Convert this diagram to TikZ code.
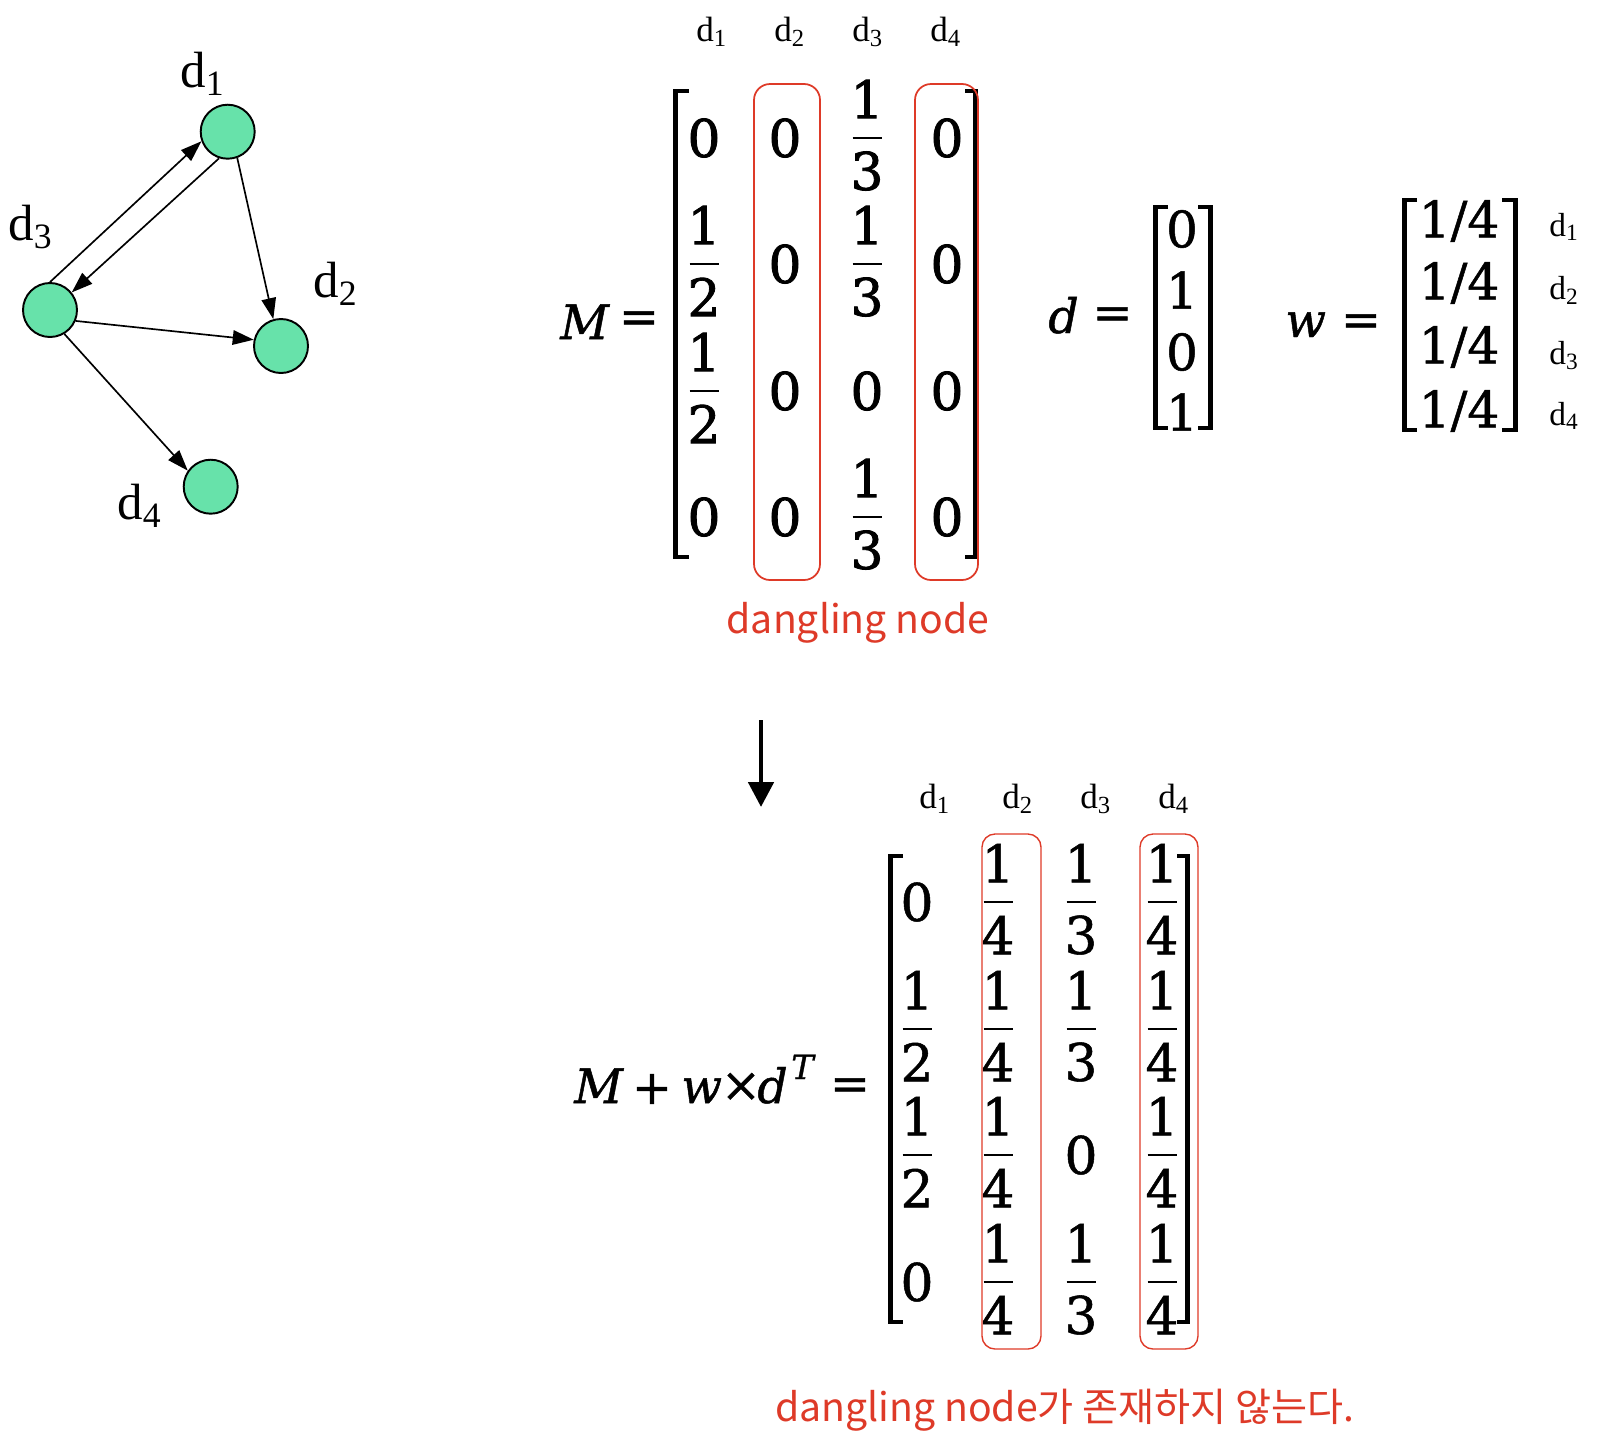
\documentclass[tikz,border=0pt]{standalone}
\usepackage{fontspec}
\setmainfont{Liberation Serif}
\newfontfamily\mf{DejaVu Serif}
\newfontfamily\mfb{DejaVu Serif}[FakeBold=1.6]
\newfontfamily\mfc{DejaVu Serif}[FakeBold=1.0]
\newfontfamily\kr{Noto Sans CJK KR}
\usetikzlibrary{arrows.meta}
\definecolor{nodegreen}{RGB}{103,226,170}
\definecolor{hred}{RGB}{222,58,40}
\tikzset{
  gnode/.style={circle,draw=black,line width=1.1pt,fill=nodegreen,minimum size=1.08cm,inner sep=0pt},
  gedge/.style={line width=0.95pt,-{Triangle[length=4.2mm,width=2.9mm]}},
  glab/.style={inner sep=0pt,anchor=base west,font=\fontsize{29}{30}\selectfont},
  clab/.style={inner sep=0pt,anchor=base west,font=\fontsize{20}{22}\selectfont},
  wlab/.style={inner sep=0pt,anchor=base west,font=\fontsize{19}{21}\selectfont},
  ent/.style={inner sep=0pt,font=\mfb\fontsize{29.5}{30}\selectfont},
  entb/.style={inner sep=0pt,font=\mfc\fontsize{29.5}{30}\selectfont},
  vent/.style={inner sep=0pt,font=\mfc\fontsize{28.5}{29}\selectfont},
  eqtxt/.style={inner sep=0pt,font=\mfc\fontsize{27}{28}\selectfont},
  supT/.style={inner sep=0pt,font=\mfc\itshape\fontsize{19}{20}\selectfont},
  fbar/.style={line width=1.5pt},
  brk/.style={line width=2.4pt,line join=miter},
  redbox/.style={draw=hred,line width=1pt,rounded corners=3.2mm},
  redtxt/.style={inner sep=0pt,text=hred,anchor=base,font=\kr\fontsize{22.3}{25}\selectfont},
}
\newcommand\ent[5][ent]{\node[#1] (#2) at (#3,#4) {#5};}
\newcommand\frc[6][ent]{%
  \node[#1] (#2n) at (#3,#4-39) {#5};
  \node[#1] (#2d) at (#3,#4+33) {#6};
  \draw[fbar] (#3-14.5,#4) -- (#3+14.5,#4);}
\begin{document}
\begin{tikzpicture}[x=0.02cm,y=-0.02cm]
\useasboundingbox (0,0) rectangle (1598,1438);
% ---------- graph ----------
\node[gnode] (d1) at (227.7,131.7) {};
\node[gnode] (d3) at (50,310) {};
\node[gnode] (d2) at (281,346) {};
\node[gnode] (d4) at (210.7,486.7) {};
\node[glab] (l1) at (180,87) {d\textsubscript{1}};
\node[glab] (l3) at (8,240) {d\textsubscript{3}};
\node[glab] (l2) at (313,297) {d\textsubscript{2}};
\node[glab] (l4) at (117,519) {d\textsubscript{4}};
\draw[gedge] (d3.north) -- (d1.200);
\draw[gedge] (d1.252) -- (d3.39);
\draw[gedge] (d1.290) -- (d2.106);
\draw[gedge] (d3.337) -- (d2.167);
\draw[gedge] (d3.301) -- (d4.145);
% ---------- M matrix ----------
\node[eqtxt,anchor=base west] (Mlab) at (560,339) {\itshape M};
\node[eqtxt] (Meq) at (639,322) {=};
\node[clab] (c1) at (696,41) {d\textsubscript{1}};
\node[clab] (c2) at (774,41) {d\textsubscript{2}};
\node[clab] (c3) at (852,41) {d\textsubscript{3}};
\node[clab] (c4) at (930,41) {d\textsubscript{4}};
\draw[brk] (689,91) -- (675.5,91) -- (675.5,557) -- (689,557);
\draw[brk] (965,91) -- (975.5,91) -- (975.5,557) -- (965,557);
\ent{m11}{704}{138}{0}\ent{m12}{785}{138}{0}\frc{m13}{867}{138}{1}{3}\ent{m14}{947}{138}{0}
\frc{m21}{704}{264}{1}{2}\ent{m22}{785}{264}{0}\frc{m23}{867}{264}{1}{3}\ent{m24}{947}{264}{0}
\frc{m31}{704}{391}{1}{2}\ent{m32}{785}{391}{0}\ent{m33}{867}{391}{0}\ent{m34}{947}{391}{0}
\ent{m41}{704}{517}{0}\ent{m42}{785}{517}{0}\frc{m43}{867}{517}{1}{3}\ent{m44}{947}{517}{0}
\draw[redbox] (754,84) rectangle (820,580);
\draw[redbox] (915,84) rectangle (978,580);
\node[redtxt] (dang1) at (858,633) {dangling node};
% ---------- d vector ----------
\node[eqtxt,anchor=base west] (dlab) at (1048,333) {\itshape d};
\node[eqtxt] (deq) at (1112.5,318) {=};
\draw[brk] (1168,207) -- (1155.5,207) -- (1155.5,428) -- (1168,428);
\draw[brk] (1198,207) -- (1210.5,207) -- (1210.5,428) -- (1198,428);
\node[vent] (v1) at (1182,229) {0};
\node[vent] (v2) at (1182,290) {1};
\node[vent] (v3) at (1182,352) {0};
\node[vent] (v4) at (1182,412) {1};
% ---------- w vector ----------
\node[eqtxt,anchor=base west] (wlab) at (1285,337) {\itshape w};
\node[eqtxt] (weq) at (1361,325) {=};
\draw[brk] (1417,200) -- (1404.5,200) -- (1404.5,430) -- (1417,430);
\draw[brk] (1502,200) -- (1515.5,200) -- (1515.5,430) -- (1502,430);
\node[vent] (w1) at (1459,221) {1/4};
\node[vent] (w2) at (1459,283) {1/4};
\node[vent] (w3) at (1459,347) {1/4};
\node[vent] (w4) at (1459,411) {1/4};
\node[wlab] (wl1) at (1549,236) {d\textsubscript{1}};
\node[wlab] (wl2) at (1549,299) {d\textsubscript{2}};
\node[wlab] (wl3) at (1549,364) {d\textsubscript{3}};
\node[wlab] (wl4) at (1549,425) {d\textsubscript{4}};
% ---------- arrow ----------
\coordinate (arS) at (761,720);
\coordinate (arE) at (761,807);
\draw[line width=2.8pt,-{Triangle[length=5mm,width=5mm]}] (arS) -- (arE);
% ---------- second matrix ----------
\node[eqtxt,anchor=base west] (q1) at (574,1103) {\itshape M};
\node[eqtxt] (q2) at (652,1089) {+};
\node[eqtxt,anchor=base west] (q3) at (681,1103) {\itshape w};
\node[eqtxt] (q4) at (741,1087) {×};
\node[eqtxt,anchor=base west] (q5) at (757,1103) {\itshape d};
\node[supT,anchor=base west] (q6) at (791,1079) {T};
\node[eqtxt] (q7) at (850,1089) {=};
\node[clab] (e1) at (919,808) {d\textsubscript{1}};
\node[clab] (e2) at (1002,808) {d\textsubscript{2}};
\node[clab] (e3) at (1080,808) {d\textsubscript{3}};
\node[clab] (e4) at (1158,808) {d\textsubscript{4}};
\draw[brk] (903,856) -- (890.5,856) -- (890.5,1322) -- (903,1322);
\draw[brk] (1177,856) -- (1187.5,856) -- (1187.5,1322) -- (1177,1322);
\ent[entb]{n11}{917}{902}{0}\frc[entb]{n12}{998}{902}{1}{4}\frc[entb]{n13}{1081}{902}{1}{3}\frc[entb]{n14}{1162}{902}{1}{4}
\frc[entb]{n21}{917}{1029}{1}{2}\frc[entb]{n22}{998}{1029}{1}{4}\frc[entb]{n23}{1081}{1029}{1}{3}\frc[entb]{n24}{1162}{1029}{1}{4}
\frc[entb]{n31}{917}{1155}{1}{2}\frc[entb]{n32}{998}{1155}{1}{4}\ent[entb]{n33}{1081}{1155}{0}\frc[entb]{n34}{1162}{1155}{1}{4}
\ent[entb]{n41}{917}{1282}{0}\frc[entb]{n42}{998}{1282}{1}{4}\frc[entb]{n43}{1081}{1282}{1}{3}\frc[entb]{n44}{1162}{1282}{1}{4}
\draw[redbox,line width=0.8pt,rounded corners=2.6mm] (982,834) rectangle (1041,1349);
\draw[redbox,line width=0.8pt,rounded corners=2.6mm] (1140,834) rectangle (1198,1349);
\node[redtxt] (dang2) at (1065,1421) {dangling node가 존재하지 않는다.};
\end{tikzpicture}
\end{document}
